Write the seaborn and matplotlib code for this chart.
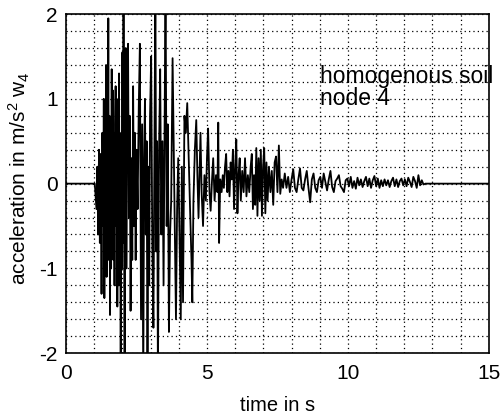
import matplotlib
matplotlib.use("Agg")
import matplotlib.pyplot as plt
import seaborn as sns
import pandas as pd
from matplotlib.ticker import MultipleLocator

time_s = [
    0.0, 1.02,
    1.05, 1.08, 1.11, 1.14, 1.17, 1.20, 1.23, 1.26, 1.29, 1.32,
    1.34, 1.36, 1.38, 1.40, 1.42, 1.44, 1.46, 1.48, 1.50, 1.52,
    1.54, 1.56, 1.58, 1.60, 1.62, 1.64, 1.66, 1.68, 1.70, 1.72,
    1.74, 1.76, 1.78, 1.80, 1.82, 1.84, 1.86, 1.88, 1.90, 1.92,
    1.94, 1.96, 1.98, 2.00, 2.02, 2.04, 2.06, 2.08, 2.10, 2.12,
    2.14, 2.17, 2.20, 2.23, 2.26, 2.29, 2.32, 2.35, 2.38, 2.41,
    2.44, 2.47, 2.50, 2.54, 2.58, 2.62, 2.66, 2.70, 2.74, 2.77,
    2.80, 2.83, 2.86, 2.89, 2.92, 2.95, 2.98, 3.02, 3.06, 3.10,
    3.14, 3.17, 3.20, 3.23, 3.26, 3.30, 3.34, 3.38, 3.42, 3.46,
    3.50, 3.53, 3.57, 3.61, 3.65, 3.69, 3.73, 3.78, 3.83, 3.87,
    3.90, 3.94, 3.98, 4.02, 4.07, 4.11, 4.15, 4.20, 4.25, 4.30,
    4.35, 4.40, 4.45, 4.48, 4.52, 4.57, 4.62, 4.66, 4.70, 4.74,
    4.77, 4.81, 4.86, 4.91, 4.96, 5.00, 5.04, 5.09, 5.13, 5.18,
    5.22, 5.27, 5.32, 5.37, 5.40, 5.43, 5.47, 5.52, 5.56, 5.60,
    5.64, 5.68, 5.72, 5.76, 5.80, 5.84, 5.88, 5.92, 5.96, 6.00,
    6.04, 6.08, 6.12, 6.16, 6.20, 6.25, 6.30, 6.35, 6.40, 6.45,
    6.50, 6.55, 6.59, 6.63, 6.67, 6.71, 6.75, 6.79, 6.83, 6.87,
    6.91, 6.95, 6.99, 7.03, 7.07, 7.11, 7.15, 7.20, 7.25, 7.30,
    7.35, 7.40, 7.45, 7.50, 7.55, 7.60, 7.65, 7.70, 7.76, 7.82,
    7.88, 7.94, 8.00, 8.06, 8.12, 8.18, 8.24, 8.30, 8.36, 8.42,
    8.48, 8.54, 8.60, 8.66, 8.72, 8.78, 8.84, 8.90, 8.96, 9.02,
    9.08, 9.14, 9.20, 9.26, 9.32, 9.38, 9.44, 9.50, 9.56, 9.62,
    9.68, 9.74, 9.80, 9.86, 9.92, 9.98, 10.04, 10.10, 10.16, 10.22,
    10.28, 10.34, 10.40, 10.46, 10.52, 10.58, 10.64, 10.70, 10.76, 10.82,
    10.88, 10.94, 11.00, 11.06, 11.12, 11.18, 11.24, 11.30, 11.36, 11.42,
    11.48, 11.54, 11.60, 11.66, 11.72, 11.78, 11.84, 11.90, 11.96, 12.02,
    12.08, 12.14, 12.20, 12.26, 12.32, 12.38, 12.44, 12.50, 12.56, 12.62,
    12.68, 12.75, 15.0,
]

accel = [
    0.0, 0.0,
    -0.15, -0.3, 0.2, -0.6, 0.4, -0.7, 0.35, -1.3, 0.6, -0.5,
    1.0, -1.35, 0.9, -0.8, 1.4, -1.1, 1.2, -0.6, 1.95, -0.9,
    0.8, -1.55, 0.5, -1.0, 1.35, -0.4, 1.1, -0.9, 0.6, -1.2,
    0.7, 1.15, -0.5, 1.0, -1.45, 0.9, -1.2, 1.3, -0.8, 0.4,
    -2.3, 0.6, -1.0, 1.55, -0.7, 2.4, -0.5, -2.4, 0.8, 1.6,
    -1.0, 0.9, 1.65, -0.4, 0.8, -1.5, 0.3, -0.9, 1.15, -0.5,
    0.6, -0.9, 0.4, -0.3, 0.9, 1.65, -1.6, 0.7, -2.4, 0.3,
    1.0, -0.6, 0.5, -2.4, 0.2, -1.2, 0.8, 1.5, -0.7, -1.7,
    0.6, 2.4, -0.8, 0.5, -2.4, 0.4, 1.35, -0.6, 0.5, -1.2,
    0.9, 2.4, -0.5, 0.7, -1.75, -0.6, -0.2, 1.48, 0.2, -0.9,
    -1.6, -0.3, 0.3, -0.5, -1.6, 0.2, -1.4, 0.8, 0.6, 0.95,
    0.3, -0.3, -0.9, -1.4, -0.2, 0.4, 0.75, 0.1, -0.4, 0.2,
    0.6, -0.1, -0.5, 0.1, -0.2, 0.3, 0.65, -0.1, -0.32, 0.05,
    0.3, -0.2, 0.1, -0.1, 0.72, -0.7, 0.05, -0.1, 0.1, -0.05,
    0.2, 0.35, -0.1, 0.15, -0.15, 0.25, 0.05, 0.4, -0.3, 0.2,
    0.52, -0.35, 0.1, 0.3, -0.2, 0.15, -0.1, 0.3, -0.15, 0.1,
    -0.1, 0.2, 0.35, -0.3, 0.1, -0.25, 0.42, -0.38, 0.3, -0.2,
    0.4, -0.38, 0.2, 0.42, -0.35, 0.25, -0.2, 0.2, -0.1, 0.15,
    -0.25, 0.25, 0.32, -0.1, 0.45, -0.12, 0.05, -0.05, 0.12, -0.05,
    0.08, -0.1, 0.05, 0.17, -0.05, -0.1, 0.05, 0.18, -0.05, -0.08,
    0.05, 0.15, -0.05, -0.22, 0.05, 0.12, -0.05, -0.1, 0.04, 0.08,
    -0.05, 0.12, 0.02, -0.08, 0.05, 0.15, -0.04, -0.1, 0.03, 0.06,
    0.1, -0.03, -0.06, -0.1, 0.04, 0.06, -0.03, 0.08, -0.05, 0.03,
    -0.06, 0.07, -0.02, 0.05, -0.04, 0.03, 0.08, -0.03, 0.06, -0.05,
    0.04, 0.09, -0.03, 0.06, -0.05, 0.04, -0.03, 0.05, -0.02, 0.04,
    -0.04, 0.03, 0.07, -0.03, 0.05, -0.04, 0.03, 0.06, -0.02, 0.05,
    -0.03, 0.07, 0.02, -0.04, 0.08, 0.03, -0.05, 0.1, -0.02, 0.04,
    -0.01, 0.0, 0.0,
]

x_ticks = [0, 5, 10, 15]
y_ticks = [-2, -1, 0, 1, 2]
annotation = "homogenous soil\nnode 4"

assert len(time_s) == len(accel), (len(time_s), len(accel))

sns.set_theme(style="white")
plt.rcParams['font.family'] = ['Liberation Sans', 'DejaVu Sans']
plt.rcParams['mathtext.fontset'] = 'custom'
plt.rcParams['mathtext.rm'] = 'Liberation Sans'
plt.rcParams['mathtext.it'] = 'Liberation Sans'
plt.rcParams['axes.unicode_minus'] = False

df = pd.DataFrame({"t": time_s, "a": accel})

fig = plt.figure(figsize=(5.04, 4.15), dpi=100)
ax = fig.add_axes([0.131, 0.149, 0.839, 0.817])

sns.lineplot(data=df, x="t", y="a", ax=ax, estimator=None, sort=False,
             color="black", linewidth=1.3)

ax.set_xlim(0, 15)
ax.set_ylim(-2, 2)
ax.set_xticks(x_ticks)
ax.set_yticks(y_ticks)
ax.xaxis.set_minor_locator(MultipleLocator(1))
ax.yaxis.set_minor_locator(MultipleLocator(0.2))
ax.grid(which="both", linestyle=(0, (1, 2.5)), color="black", linewidth=0.9)
ax.tick_params(which="both", length=0, labelsize=15, colors="black")
ax.tick_params(axis="x", pad=8)
ax.tick_params(axis="y", pad=6)
for s in ax.spines.values():
    s.set_color("black")
    s.set_linewidth(1.2)

ax.set_xlabel("time in s", fontsize=14.5, color="black", labelpad=9)
ax.set_ylabel(r"acceleration in m/s$^2$ w$_4$", fontsize=15, color="black")
ax.yaxis.set_label_coords(-0.08, 0.516)

ax.text(9.0, 1.40, annotation, fontsize=16.5, color="black", va="top", ha="left",
        linespacing=0.95)

fig.savefig("out.png", dpi=100)
